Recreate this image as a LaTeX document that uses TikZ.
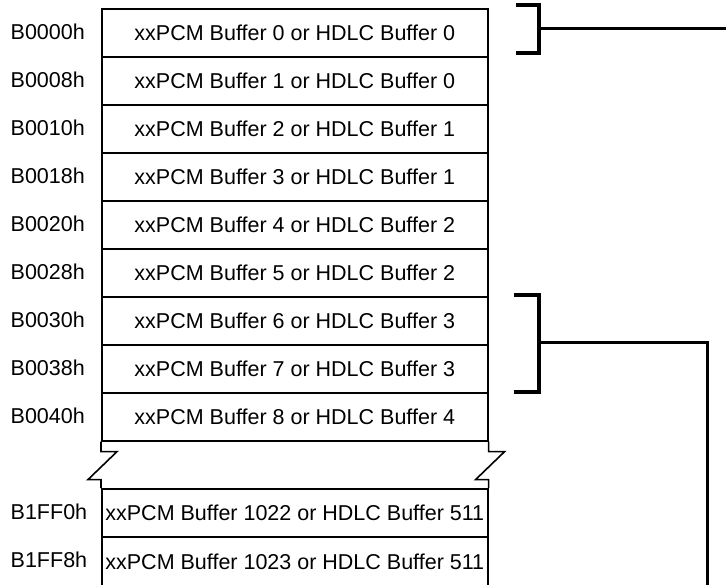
\documentclass[tikz,border=0pt]{standalone}
\usepackage{fontspec}
\setmainfont{Liberation Sans}
\begin{document}
\begin{tikzpicture}[x=1pt,y=-1pt,
  cell/.style={draw, line width=1.6pt, minimum width=386pt, minimum height=48pt, inner sep=0pt, anchor=north west, font=\fontsize{21.5}{24}\selectfont},
  addr/.style={anchor=west, inner sep=0pt, font=\fontsize{21.5}{24}\selectfont},
  edge/.style={line width=1.6pt},
  brk/.style={line width=4pt},
  wire/.style={line width=3pt}]
\useasboundingbox (0,0) rectangle (726,585);
\foreach \i/\bn/\hn/\lab in {0/0/0/B0000h,1/1/0/B0008h,2/2/1/B0010h,3/3/1/B0018h,4/4/2/B0020h,5/5/2/B0028h,6/6/3/B0030h,7/7/3/B0038h,8/8/4/B0040h}{
  \node[cell] (r\i) at (101,{8+48*\i}) {xxPCM Buffer \bn{} or HDLC Buffer \hn};
  \node[addr] (a\i) at (10.5,{32+48*\i}) {\lab};
}
\node[cell] (r9) at (101,488) {xxPCM Buffer 1022 or HDLC Buffer 511};
\node[addr] (a9) at (10.5,512) {B1FF0h};
\node[cell, minimum height=49.5pt, text depth=0pt] (r10) at (101,536) {\raisebox{0.6pt}{xxPCM Buffer 1023 or HDLC Buffer 511}};
\node[addr] (a10) at (10.5,560) {B1FF8h};
% break marks
\draw[edge] (r8.south west) -- ++(0,10) -- ++(16,0) -- ++(-29,28) -- ++(13,0) -- (r9.north west);
\draw[edge] (r8.south east) -- ++(0,10) -- ++(16,0) -- ++(-29,28) -- ++(13,0) -- (r9.north east);
% top bracket
\coordinate (b1a) at (516,5);
\coordinate (b1b) at (539,5);
\coordinate (b1c) at (539,53);
\coordinate (b1d) at (516,53);
\coordinate (b1m) at (539,29);
\coordinate (out1) at (726,29);
\draw[brk] (b1a) -- (b1b) -- (b1c) -- (b1d);
\draw[wire] (b1m) -- (out1);
% lower bracket
\coordinate (b2a) at (514,295);
\coordinate (b2b) at (539,295);
\coordinate (b2c) at (539,392);
\coordinate (b2d) at (514,392);
\coordinate (b2m) at (539,343);
\coordinate (b2k) at (707,343);
\coordinate (out2) at (707,585);
\draw[brk] (b2a) -- (b2b) -- (b2c) -- (b2d);
\draw[wire] (b2m) -- (b2k) -- (out2);
\end{tikzpicture}
\end{document}
